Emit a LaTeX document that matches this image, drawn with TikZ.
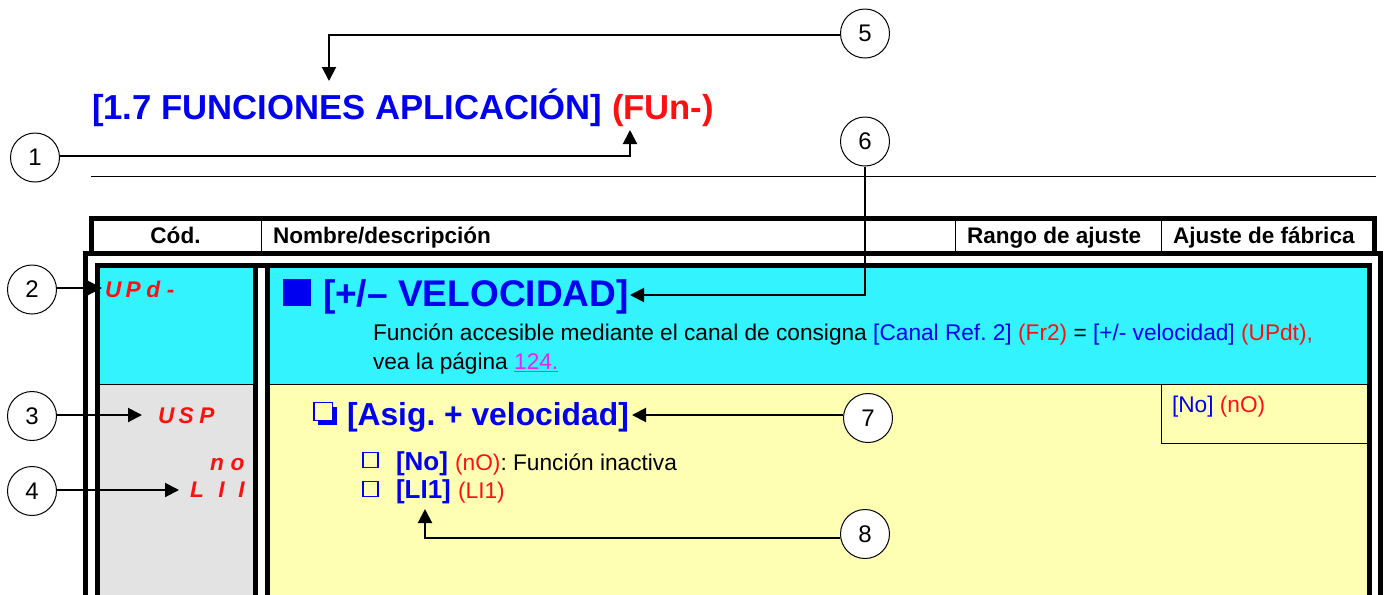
\documentclass[tikz,border=0pt]{standalone}
\usepackage{fontspec}
\setmainfont{Liberation Sans}
\usetikzlibrary{arrows.meta}
\frenchspacing
\definecolor{cy}{HTML}{33F3FF}
\definecolor{ye}{HTML}{FFFFB4}
\definecolor{gr}{HTML}{E3E3E3}
\definecolor{bl}{HTML}{0000F0}
\definecolor{rd}{HTML}{FF1010}
\definecolor{mg}{HTML}{F020F0}
\newcommand{\fsz}[1]{\fontsize{#1}{#1}\selectfont}
\newcommand{\ledc}[1]{\makebox[15.5pt][l]{#1}}
\newcommand{\ledr}[1]{\makebox[15pt][r]{#1}}
\tikzset{
  x=0.75pt,y=-0.75pt,
  frame/.style={draw=black,line width=3.75pt},
  thinl/.style={draw=black,line width=0.75pt},
  callout/.style={circle,draw=black,line width=0.75pt,fill=white,minimum size=36.75pt,inner sep=0pt,font=\fsz{18pt}},
  lead/.style={draw=black,line width=1.5pt,-{Triangle[length=10.5pt,width=10.5pt]}},
  txt/.style={anchor=base west,inner sep=0pt,outer sep=0pt},
  hdr/.style={txt,font=\fsz{16.9pt}\bfseries},
  led/.style={txt,font=\fsz{17pt}\itshape\bfseries,text=rd},
  body/.style={txt,font=\fsz{17pt}},
  cbox/.style={draw=bl,line width=1.1pt,minimum size=11pt,inner sep=0pt},
}
\begin{document}
\begin{tikzpicture}
\clip (0,0) rectangle (1386,594);
\fill[white] (0,0) rectangle (1386,594);
% fills
\fill[cy] (100,268) rectangle (1367,384);
\fill[gr] (100,384) rectangle (253,600);
\fill[ye] (270,384) rectangle (1367,600);
\fill[white] (258,268) rectangle (265,600);
% rule
\draw[thinl] (91,176.5) -- (1376,176.5);
% header frame
\draw[frame] (91.5,253.5) -- (91.5,218.5) -- (1374.5,218.5) -- (1374.5,253.5);
\draw[thinl] (261.5,221) -- (261.5,251);
\draw[thinl] (955.5,221) -- (955.5,251);
\draw[thinl] (1161.5,221) -- (1161.5,251);
% table frames
\draw[frame] (85.5,610) -- (85.5,253.5) -- (1380.5,253.5) -- (1380.5,610);
\draw[frame] (97.5,610) -- (97.5,265.5) -- (1369.5,265.5) -- (1369.5,610);
\draw[frame] (255.5,265.5) -- (255.5,610);
\draw[frame] (267.5,265.5) -- (267.5,610);
\draw[thinl] (100,384.5) -- (253,384.5);
\draw[thinl] (270,384.5) -- (1367,384.5);
\draw[thinl] (1161.5,384.5) -- (1161.5,443.5) -- (1367,443.5);
% texts
\node[txt,font=\fsz{26pt}\bfseries,text=bl] (title) at (92,119) {[1.7 FUNCIONES APLICACIÓN] \textcolor{rd}{(FUn-)}};
\node[hdr,anchor=base] (hcod) at (175.5,243.5) {Cód.};
\node[hdr] (hnom) at (273,243.5) {Nombre/descripción};
\node[hdr] (hran) at (967,243.5) {Rango de ajuste};
\node[hdr] (haju) at (1173,243.5) {Ajuste de fábrica};
\node[led] (lupd) at (105,297) {\ledc{U}\ledc{P}\ledc{d}\ledc{-}};
\node[led] (lusp) at (158,423) {\ledc{U}\ledc{S}\ledc{P}};
\node[led] (lno) at (210,470) {\ledc{n}\ledc{o}};
\node[led] (lli) at (190,497) {\makebox[11pt][l]{L}\ledr{I}\ledr{I}};
\fill[bl] (283,279) rectangle (311,306);
\node[txt,font=\fsz{27.8pt}\bfseries,text=bl] (tvel) at (323,306) {[+/– VELOCIDAD]};
\node[body] (f1) at (373,340) {Función accesible mediante el canal de consigna \textcolor{bl}{[Canal Ref. 2]} \textcolor{rd}{(Fr2)} = \textcolor{bl}{[+/- velocidad]} \textcolor{rd}{(UPdt),}};
\node[body] (f2) at (373,369) {vea la página \textcolor{mg}{\underline{124.}}};
% shadow box
\fill[bl] (318,407) rectangle (337,425);
\draw[draw=bl,line width=1pt,fill=ye] (314,402.5) rectangle (332.5,420.5);
\node[txt,font=\fsz{23.85pt}\bfseries,text=bl] (tasig) at (347,425) {[Asig. + velocidad]};
\node[cbox] (c1) at (370.5,460) {};
\node[cbox] (c2) at (370.5,489) {};
\node[txt,font=\fsz{19.5pt},text=black] (tno) at (396,470) {\textcolor{bl}{\bfseries [No]} \fsz{17pt}\textcolor{rd}{(nO)}: Función inactiva};
\node[txt,font=\fsz{19.5pt},text=black] (tli) at (396,498) {\textcolor{bl}{\bfseries [LI1]} \fsz{17pt}\textcolor{rd}{(LI1)}};
\node[body] (tdef) at (1172,412) {\textcolor{bl}{[No]} \textcolor{rd}{(nO)}};
% callouts
\node[callout] (n1) at (35,157.5) {1};
\node[callout] (n2) at (32,289.5) {2};
\node[callout] (n3) at (32,416) {3};
\node[callout] (n4) at (32,491) {4};
\node[callout] (n5) at (865,33.5) {5};
\node[callout] (n6) at (865,141.5) {6};
\node[callout] (n7) at (868,418) {7};
\node[callout] (n8) at (865,534) {8};
% targets
\coordinate (t1) at (630,130);
\coordinate (t2) at (102,288);
\coordinate (t3) at (142,415);
\coordinate (t4) at (179,490);
\coordinate (t5) at (329,81);
\coordinate (t6) at (630,295);
\coordinate (t7) at (632,415);
\coordinate (t8) at (425,509);
\draw[lead] (n1.east |- 0,155.5) -| (t1);
\draw[lead] (n2.east |- t2) -- (t2);
\draw[lead] (n3.east |- t3) -- (t3);
\draw[lead] (n4.east |- t4) -- (t4);
\draw[lead] (n5.west |- 0,34.5) -| (t5);
\draw[lead] (n6.south) |- (t6);
\draw[lead] (n7.west |- t7) -- (t7);
\draw[lead] (n8.west |- 0,538) -| (t8);
\end{tikzpicture}
\end{document}
